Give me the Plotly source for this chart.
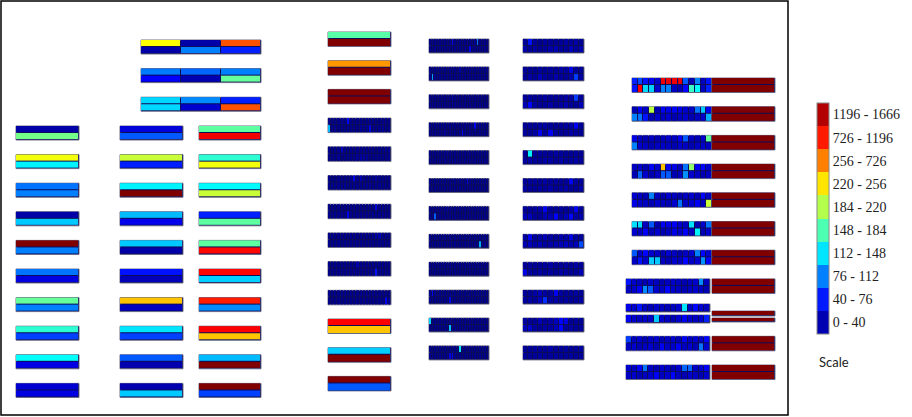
import numpy as np
import plotly.graph_objects as go

# ---------------- data ----------------
bin_edges = [0, 40, 76, 112, 148, 184, 220, 256, 726, 1196, 1666]
scale_labels = ["0 - 40", "40 - 76", "76 - 112", "112 - 148", "148 - 184",
                "184 - 220", "220 - 256", "256 - 726", "726 - 1196", "1196 - 1666"]
scale_title = "Scale"

# top group: 3 blocks, 3 cells x 2 rows
top_blocks = [
    [[229, 15, 700], [15, 94, 60]],
    [[92, 85, 94], [48, 20, 175]],
    [[125, 98, 60], [125, 30, 700]],
]

# single-cell blocks, [top, bottom]
col_a = [[15, 180], [225, 135], [90, 94], [15, 120], [1666, 94],
         [90, 38], [175, 94], [155, 72], [140, 40], [32, 38]]
col_b = [[36, 80], [210, 60], [135, 1666], [115, 42], [120, 15],
         [55, 22], [250, 25], [130, 72], [80, 18], [18, 120]]
col_c = [[172, 1150], [155, 225], [138, 210], [60, 172], [172, 1050],
         [1060, 122], [950, 98], [1078, 249], [115, 1666], [1666, 72]]
col_d_head = [[170, 1666], [383, 1666], [1666, 1666]]
col_d_tail = [[1078, 249], [122, 1666], [1666, 80]]

# column D detailed blocks (2 x 20)
col_d_noise = [
    [[3, 5, 2, 4, 12, 3, 50, 6, 2, 4, 5, 2, 3, 10, 3, 4, 2, 4, 6, 3],
     [115, 4, 8, 2, 5, 3, 6, 3, 4, 2, 10, 5, 6, 40, 3, 3, 5, 7, 2, 4]],
    [[4, 2, 6, 3, 25, 5, 3, 4, 2, 5, 3, 6, 3, 4, 4, 2, 5, 3, 6, 10],
     [3, 5, 3, 7, 2, 4, 6, 3, 5, 9, 15, 12, 10, 3, 4, 6, 3, 5, 4, 8]],
    [[5, 3, 2, 6, 4, 3, 4, 6, 45, 3, 20, 5, 3, 4, 6, 15, 3, 4, 5, 3],
     [3, 6, 4, 5, 3, 8, 2, 4, 5, 4, 3, 5, 7, 10, 3, 4, 6, 3, 2, 5]],
    [[3, 4, 3, 5, 4, 2, 5, 3, 6, 3, 4, 4, 3, 5, 3, 40, 4, 5, 3, 4],
     [5, 3, 6, 4, 10, 3, 45, 4, 3, 5, 4, 3, 5, 3, 6, 4, 3, 5, 4, 3]],
    [[4, 5, 3, 3, 5, 4, 3, 6, 4, 3, 5, 3, 4, 4, 5, 15, 20, 3, 5, 4],
     [3, 5, 4, 6, 3, 4, 3, 4, 5, 3, 5, 4, 3, 6, 4, 3, 5, 4, 3, 4]],
    [[4, 3, 5, 3, 4, 5, 3, 4, 4, 20, 5, 3, 4, 3, 4, 5, 3, 4, 3, 4],
     [3, 5, 3, 4, 4, 3, 5, 3, 5, 4, 3, 4, 3, 5, 3, 55, 4, 3, 5, 3]],
    [[4, 3, 5, 3, 4, 4, 3, 5, 3, 5, 4, 3, 4, 3, 4, 5, 3, 4, 3, 4],
     [3, 4, 3, 5, 4, 3, 4, 3, 5, 4, 3, 5, 3, 4, 4, 3, 5, 3, 45, 10]],
]

# column E (2 x 24)
col_e = [
    [[3, 5, 3, 4, 6, 3, 4, 3, 5, 40, 4, 3, 5, 3, 4, 4, 5, 3, 6, 90, 4, 3, 5, 3],
     [4, 3, 5, 3, 4, 5, 3, 4, 3, 5, 4, 3, 6, 3, 4, 5, 40, 4, 3, 5, 3, 4, 4, 5]],
    [[4, 5, 3, 6, 3, 4, 4, 3, 5, 5, 3, 4, 15, 4, 3, 5, 4, 3, 4, 3, 5, 4, 5, 10],
     [5, 105, 4, 3, 4, 3, 5, 4, 3, 5, 3, 4, 4, 5, 3, 3, 4, 4, 5, 3, 5, 3, 4, 4]],
    [[3, 4, 4, 5, 3, 4, 5, 3, 4, 18, 4, 5, 3, 3, 4, 4, 5, 3, 4, 5, 3, 4, 3, 4],
     [4, 10, 3, 4, 4, 5, 3, 4, 3, 4, 5, 3, 4, 5, 3, 4, 4, 3, 5, 3, 4, 4, 3, 5]],
    [[4, 3, 5, 3, 4, 4, 3, 5, 4, 5, 3, 4, 3, 4, 5, 3, 4, 4, 45, 3, 5, 4, 3, 4],
     [3, 5, 4, 4, 3, 5, 10, 4, 3, 4, 4, 5, 3, 45, 4, 3, 5, 4, 3, 4, 3, 4, 5, 3]],
    [[4, 4, 3, 5, 4, 3, 4, 12, 4, 3, 5, 4, 3, 4, 4, 5, 3, 4, 4, 3, 5, 4, 3, 4],
     [4, 5, 3, 4, 4, 3, 5, 4, 3, 5, 4, 4, 3, 5, 3, 4, 4, 3, 5, 4, 3, 4, 4, 5]],
    [[5, 3, 4, 4, 3, 5, 4, 3, 4, 4, 5, 3, 4, 4, 3, 35, 4, 5, 3, 4, 4, 3, 5, 4],
     [3, 4, 4, 5, 3, 4, 4, 3, 5, 4, 3, 4, 5, 4, 3, 4, 4, 5, 3, 4, 4, 3, 4, 5]],
    [[4, 5, 3, 4, 4, 3, 5, 15, 4, 3, 4, 4, 5, 3, 4, 4, 3, 5, 4, 3, 4, 4, 3, 4],
     [4, 3, 80, 4, 5, 3, 4, 4, 3, 5, 4, 4, 3, 4, 5, 3, 4, 4, 3, 5, 4, 4, 3, 4]],
    [[3, 4, 4, 5, 3, 4, 4, 3, 5, 4, 4, 3, 5, 4, 3, 4, 4, 5, 3, 4, 3, 4, 5, 4],
     [4, 5, 3, 4, 4, 5, 3, 4, 4, 3, 5, 4, 3, 4, 4, 5, 3, 4, 4, 3, 110, 4, 5, 3]],
    [[4, 4, 5, 3, 4, 4, 3, 5, 4, 3, 4, 4, 5, 3, 4, 4, 5, 3, 4, 4, 3, 5, 4, 4],
     [3, 5, 4, 4, 3, 4, 5, 3, 4, 4, 3, 5, 4, 4, 3, 5, 4, 4, 3, 4, 5, 3, 4, 4]],
    [[4, 45, 4, 3, 5, 4, 4, 3, 4, 5, 3, 4, 4, 5, 3, 4, 4, 3, 5, 4, 4, 3, 4, 5],
     [5, 4, 3, 4, 4, 5, 3, 4, 40, 4, 3, 5, 4, 3, 4, 4, 5, 3, 4, 4, 5, 4, 3, 4]],
    [[125, 4, 5, 3, 4, 4, 3, 5, 4, 4, 3, 4, 5, 4, 3, 4, 5, 4, 3, 4, 4, 5, 3, 4],
     [4, 4, 3, 5, 4, 3, 4, 4, 115, 5, 4, 3, 4, 5, 4, 3, 4, 4, 5, 3, 4, 4, 4, 3]],
    [[4, 3, 5, 4, 3, 4, 4, 5, 3, 4, 4, 5, 130, 4, 3, 4, 4, 5, 3, 4, 4, 3, 5, 4],
     [3, 4, 4, 3, 5, 4, 4, 3, 40, 45, 4, 4, 3, 5, 4, 4, 3, 4, 5, 4, 4, 3, 4, 5]],
]

# column F (2 x 12)
col_f = [
    [[8, 55, 10, 6, 12, 9, 8, 10, 14, 10, 15, 8], [14, 9, 12, 8, 10, 15, 20, 10, 9, 22, 12, 18]],
    [[9, 8, 6, 12, 8, 10, 9, 14, 12, 40, 10, 8], [8, 14, 9, 22, 12, 8, 18, 10, 9, 14, 70, 12]],
    [[10, 12, 8, 9, 15, 8, 10, 9, 14, 12, 70, 10], [18, 50, 12, 9, 10, 14, 9, 12, 18, 10, 9, 22]],
    [[9, 10, 8, 12, 14, 9, 8, 10, 12, 14, 45, 9], [12, 9, 14, 45, 10, 45, 12, 9, 10, 14, 12, 10]],
    [[10, 135, 9, 12, 10, 9, 14, 12, 10, 9, 12, 10], [12, 14, 10, 9, 15, 12, 10, 14, 9, 12, 15, 10]],
    [[9, 12, 10, 9, 14, 10, 12, 9, 10, 45, 12, 9], [14, 10, 9, 12, 10, 15, 9, 12, 14, 10, 9, 14]],
    [[10, 9, 12, 14, 45, 10, 9, 12, 10, 14, 45, 10], [22, 25, 10, 9, 22, 18, 50, 12, 22, 50, 14, 18]],
    [[12, 45, 10, 14, 22, 12, 10, 18, 14, 40, 12, 10], [18, 25, 15, 22, 12, 14, 18, 22, 25, 20, 22, 75]],
    [[10, 12, 9, 10, 12, 14, 10, 9, 12, 10, 14, 9], [40, 12, 10, 14, 9, 12, 10, 14, 12, 9, 10, 22]],
    [[10, 9, 14, 22, 12, 10, 45, 12, 9, 10, 12, 10], [12, 14, 10, 25, 65, 12, 14, 10, 12, 9, 10, 14]],
    [[12, 10, 9, 22, 12, 14, 25, 50, 40, 10, 12, 9], [22, 30, 12, 10, 14, 12, 22, 50, 12, 14, 10, 12]],
    [[9, 10, 12, 9, 10, 14, 9, 10, 12, 9, 10, 12], [10, 9, 10, 12, 9, 10, 12, 9, 10, 12, 9, 10]],
]

# column G, upper 7 blocks (2 x 14)
col_g_upper = [
    [[60, 75, 55, 45, 30, 1150, 1180, 1150, 1180, 80, 20, 95, 25, 55],
     [55, 1078, 125, 122, 30, 95, 95, 25, 20, 50, 160, 140, 25, 60]],
    [[20, 45, 25, 205, 20, 45, 40, 45, 40, 30, 25, 90, 120, 45],
     [95, 90, 55, 20, 30, 25, 30, 20, 25, 30, 20, 25, 30, 110]],
    [[40, 25, 20, 25, 20, 25, 30, 25, 45, 80, 25, 20, 30, 175],
     [95, 30, 25, 20, 25, 30, 25, 20, 30, 25, 20, 25, 30, 25]],
    [[25, 30, 20, 45, 30, 250, 45, 40, 25, 90, 190, 45, 50, 30],
     [20, 85, 30, 20, 25, 80, 80, 20, 25, 100, 30, 25, 20, 25]],
    [[30, 25, 20, 95, 25, 20, 30, 25, 20, 25, 30, 20, 50, 25],
     [40, 30, 25, 20, 30, 25, 20, 30, 90, 25, 30, 45, 25, 210]],
    [[128, 128, 25, 80, 20, 45, 40, 45, 30, 25, 128, 20, 30, 90],
     [30, 25, 45, 20, 30, 20, 25, 40, 30, 45, 25, 135, 20, 30]],
    [[80, 25, 50, 30, 25, 20, 30, 25, 20, 25, 30, 95, 50, 30],
     [25, 55, 30, 120, 120, 25, 20, 30, 25, 50, 25, 30, 100, 45]],
]
# column G, lower blocks (2 x 15); the 2nd one is drawn as two separate strips
col_g_lower = [
    [[55, 30, 25, 20, 30, 25, 20, 25, 30, 25, 20, 25, 30, 100, 25],
     [25, 30, 45, 98, 80, 30, 25, 50, 30, 25, 20, 25, 30, 25, 20]],
    [[40, 30, 55, 25, 20, 30, 25, 20, 25, 30, 130, 25, 50, 30, 25],
     [45, 30, 25, 30, 25, 120, 30, 25, 20, 30, 45, 30, 25, 30, 60]],
    [[70, 25, 30, 20, 25, 30, 20, 25, 30, 20, 45, 25, 30, 25, 50],
     [25, 30, 20, 25, 30, 20, 45, 25, 30, 45, 25, 30, 20, 90, 30]],
    [[30, 25, 45, 90, 25, 20, 30, 25, 20, 30, 85, 85, 25, 30, 45],
     [25, 30, 20, 25, 30, 45, 25, 30, 50, 25, 20, 30, 25, 20, 30]],
]
col_g_right = [[1666, 1666]] * 11

# ---------------- styling / helpers ----------------
JET = [[0.0, "rgb(0,0,128)"], [0.125, "rgb(0,0,255)"], [0.375, "rgb(0,255,255)"],
       [0.625, "rgb(255,255,0)"], [0.875, "rgb(255,0,0)"], [1.0, "rgb(128,0,0)"]]
GRID = "#0c0c5a"
EDGE = "rgba(100,100,130,0.9)"


def jet_rgb(t):
    pos = [s[0] for s in JET]
    cols = [tuple(int(v) for v in s[1][4:-1].split(",")) for s in JET]
    r = np.interp(t, pos, [c[0] for c in cols])
    g = np.interp(t, pos, [c[1] for c in cols])
    b = np.interp(t, pos, [c[2] for c in cols])
    return f"rgb({int(round(r))},{int(round(g))},{int(round(b))})"


fig = go.Figure()
shapes = []


def add_block(z, xl, xr, yt, yb, gap=1):
    z = np.asarray(z, dtype=float)
    nr, nc = z.shape
    lev = np.interp(z, bin_edges, np.arange(len(bin_edges)))
    dx = (xr - xl) / nc
    dy = (yb - yt) / nr
    shapes.append(dict(type="rect", xref="x", yref="y", x0=xl, x1=xr, y0=yt, y1=yb,
                       layer="below", fillcolor=GRID, line=dict(color=EDGE, width=1)))
    fig.add_trace(go.Heatmap(z=lev, x0=xl + dx / 2, dx=dx, y0=yt + dy / 2, dy=dy,
                             zmin=0, zmax=10, colorscale=JET, showscale=False,
                             xgap=gap, ygap=gap, hoverinfo="skip"))


def two_rows(pair):
    return [[pair[0]], [pair[1]]]


H = 14
PITCH = 28.6
# top group
for i, blk in enumerate(top_blocks):
    y = 40 + i * PITCH
    add_block(blk, 141, 261, y, y + H)
# columns A, B, C
for cols, (xl, xr) in ((col_a, (16, 79)), (col_b, (120, 183)), (col_c, (199, 261))):
    for i, pair in enumerate(cols):
        y = 126 + i * PITCH
        add_block(two_rows(pair), xl, xr, y, y + H)
# column D
d_blocks = [two_rows(p) for p in col_d_head] + col_d_noise + [two_rows(p) for p in col_d_tail]
for i, blk in enumerate(d_blocks):
    y = 32 + i * 28.7
    add_block(blk, 328, 391, y, y + 14.5)
# columns E, F
for i, blk in enumerate(col_e):
    y = 39 + i * 27.9
    add_block(blk, 429, 489, y, y + H)
for i, blk in enumerate(col_f):
    y = 39 + i * 27.9
    add_block(blk, 523, 584, y, y + H)
# column G
GP = 28.7
for i, blk in enumerate(col_g_upper):
    y = 78 + i * GP
    add_block(blk, 632, 712, y, y + 14.5)
    add_block(two_rows(col_g_right[i]), 712, 775, y, y + 14.5)
for j, blk in enumerate(col_g_lower):
    k = 7 + j
    y = 78 + k * GP
    if j == 1:
        add_block([blk[0]], 626, 710, 304, 312)
        add_block([blk[1]], 626, 710, 315, 323)
        add_block([[col_g_right[k][0]]], 712, 775, 311, 316)
        add_block([[col_g_right[k][1]]], 712, 775, 318, 322)
    else:
        add_block(blk, 626, 710, y, y + 14.5)
        add_block(two_rows(col_g_right[k]), 712, 775, y, y + 14.5)

# discrete legend colour bar
n = len(scale_labels)
disc = []
for i in range(n):
    c = jet_rgb((i + 0.5) / n)
    disc.append([i / n, c])
    disc.append([(i + 1) / n, c])

fig.add_trace(go.Scatter(
    x=[-100], y=[-100], mode="markers", hoverinfo="skip", showlegend=False,
    marker=dict(color=[0], cmin=0, cmax=n, colorscale=disc, showscale=True,
                colorbar=dict(x=817 / 912, xanchor="left", xpad=0,
                              y=1 - 218.5 / 417, yanchor="middle", ypad=0,
                              len=231 / 417, lenmode="fraction",
                              thickness=12, thicknessmode="pixels",
                              tickvals=[i + 0.5 for i in range(n)], ticktext=scale_labels,
                              ticks="", tickfont=dict(family="Liberation Serif", size=14, color="#222"),
                              outlinewidth=1, outlinecolor="#888"))))

# outer frame
shapes.append(dict(type="rect", xref="x", yref="y", x0=1, x1=788, y0=1, y1=415,
                   layer="above", line=dict(color="black", width=1.5), fillcolor="rgba(0,0,0,0)"))

fig.update_layout(
    width=912, height=417, margin=dict(l=0, r=0, t=0, b=0, autoexpand=False),
    paper_bgcolor="white", plot_bgcolor="white", showlegend=False,
    xaxis=dict(range=[0, 912], visible=False, fixedrange=True),
    yaxis=dict(range=[417, 0], visible=False, fixedrange=True),
    shapes=shapes,
    annotations=[dict(x=817, y=362, xref="x", yref="y", text=scale_title, showarrow=False,
                      xanchor="left", yanchor="middle",
                      font=dict(family="Lato", size=13, color="#222"))],
)

fig.write_html("out.html", config={"displayModeBar": False},
               post_script="document.body.style.margin='0px';")
